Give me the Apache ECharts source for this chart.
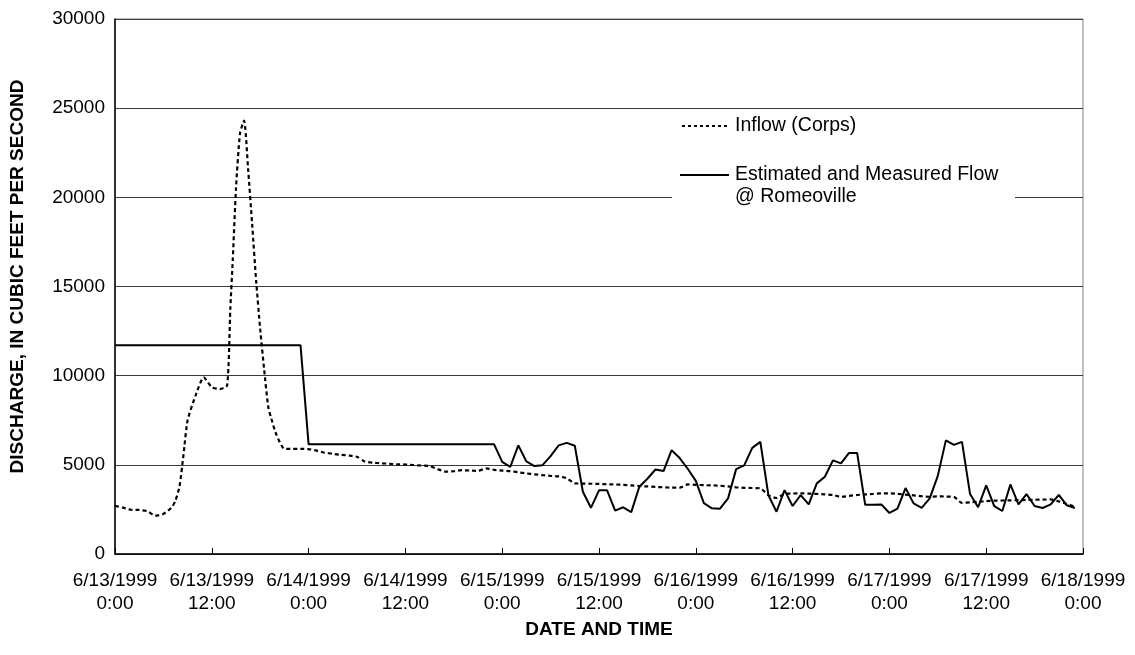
<!DOCTYPE html>
<html>
<head>
<meta charset="utf-8">
<title>Discharge, June 13-18, 1999</title>
<script src="https://cdn.jsdelivr.net/npm/echarts@6/dist/echarts.min.js"></script>
<style>
  html, body { margin: 0; padding: 0; background: #fff; }
  #chart { width: 1135px; height: 655px; }
</style>
</head>
<body>
<div id="chart"></div>
<script>
// Hours elapsed since 6/13/1999 0:00
const xTickLabels = [
  '6/13/1999\n0:00', '6/13/1999\n12:00', '6/14/1999\n0:00', '6/14/1999\n12:00',
  '6/15/1999\n0:00', '6/15/1999\n12:00', '6/16/1999\n0:00', '6/16/1999\n12:00',
  '6/17/1999\n0:00', '6/17/1999\n12:00', '6/18/1999\n0:00'
];

// Inflow (Corps), cubic feet per second
const inflowHours = [
  0, 1, 2, 3, 4, 5, 6, 7, 7.5, 8, 8.5, 9, 10, 11, 12, 13, 13.9, 14.3, 14.6, 15,
  15.5, 16, 16.5, 17, 17.5, 18, 18.5, 19, 19.5, 20, 21, 22, 23, 24,
  25, 26, 27, 28, 29, 30, 31, 32, 33, 34, 35, 36, 37, 38, 39, 40, 41, 42, 43, 44,
  45, 46, 47, 48, 49, 50, 51, 52, 53, 54, 55, 56, 57, 58, 59, 60, 61, 62, 63, 64,
  65, 66, 67, 68, 69, 70, 71, 72, 73, 74, 75, 76, 77, 78, 79, 80, 81, 82, 83, 84,
  85, 86, 87, 88, 89, 90, 91, 92, 93, 94, 95, 96, 97, 98, 99, 100, 101, 102, 103, 104,
  105, 106, 107, 108, 109, 110, 111, 112, 113, 114, 115, 116, 117, 118, 119
];
const inflowCfs = [
  2700, 2600, 2480, 2470, 2400, 2150, 2250, 2600, 3000, 3800, 5600, 7500, 8900, 9900, 9350, 9250, 9450, 13800, 16500, 20500,
  23600, 24300, 21600, 18500, 15300, 12600, 10300, 8250, 7400, 6700, 5900, 5900, 5900, 5880,
  5800, 5680, 5620, 5560, 5520, 5450, 5180, 5120, 5090, 5060, 5030, 5020, 4990, 4960, 4930, 4760, 4620, 4640, 4700, 4680,
  4660, 4800, 4720, 4680, 4650, 4580, 4520, 4470, 4420, 4380, 4350, 4250, 3960, 3950, 3940, 3930, 3910, 3900, 3880, 3850,
  3810, 3790, 3760, 3740, 3720, 3720, 3900, 3880, 3860, 3850, 3830, 3790, 3740, 3710, 3700, 3680, 3290, 3140, 3370, 3390,
  3400, 3390, 3370, 3340, 3310, 3200, 3260, 3310, 3340, 3370, 3400, 3400, 3370, 3330, 3290, 3240, 3210, 3230, 3220, 3200,
  2860, 2900, 2930, 2960, 2990, 3000, 3010, 3020, 3030, 3040, 3050, 3060, 2950, 2800, 2650
];

// Estimated and measured flow at Romeoville, cubic feet per second
const flowHours = [
  0, 23, 24, 47, 48, 49, 50, 51, 52, 53, 54, 55, 56, 57, 58, 59, 60, 61, 62, 63,
  64, 65, 66, 67, 68, 69, 70, 71, 72, 73, 74, 75, 76, 77, 78, 79, 80, 81, 82, 83,
  84, 85, 86, 87, 88, 89, 90, 91, 92, 93, 94, 95, 96, 97, 98, 99, 100, 101, 102, 103,
  104, 105, 106, 107, 108, 109, 110, 111, 112, 113, 114, 115, 116, 117, 118, 119
];
const flowCfs = [
  11700, 11700, 6150, 6150, 5170, 4890, 6090, 5190, 4930, 4980, 5490, 6090, 6230, 6070, 3490, 2590, 3570, 3570, 2430, 2620,
  2350, 3770, 4220, 4740, 4650, 5820, 5380, 4780, 4100, 2850, 2560, 2540, 3120, 4760, 4970, 5950, 6290, 3300, 2370, 3580,
  2690, 3300, 2780, 3960, 4330, 5250, 5080, 5670, 5670, 2760, 2760, 2780, 2300, 2540, 3700, 2840, 2590, 3120, 4380, 6370,
  6120, 6290, 3360, 2620, 3850, 2690, 2410, 3900, 2780, 3360, 2690, 2580, 2780, 3320, 2730, 2580
];

const yTicks = { min: 0, max: 30000, step: 5000 };
const xTicks = { min: 0, max: 120, step: 12 };

const FONT = "'Liberation Sans', Arial, Helvetica, sans-serif";

const zip = (xs, ys) => xs.map((x, i) => [x, ys[i]]);

const chart = echarts.init(document.getElementById('chart'), null, { renderer: 'canvas' });

chart.setOption({
  animation: false,
  backgroundColor: '#ffffff',
  textStyle: { fontFamily: FONT },
  grid: {
    left: 114, right: 52, top: 19, bottom: 101,
    show: true, borderColor: '#808080', borderWidth: 1, backgroundColor: 'transparent'
  },
  xAxis: {
    type: 'value',
    min: xTicks.min, max: xTicks.max, interval: xTicks.step,
    name: 'DATE AND TIME',
    nameLocation: 'middle',
    nameGap: 58,
    nameTextStyle: { fontFamily: FONT, fontSize: 19, fontWeight: 'bold', color: '#000' },
    axisLine: { show: true, lineStyle: { color: '#000', width: 1.5 } },
    axisTick: { show: true, inside: true, length: 6, lineStyle: { color: '#000', width: 1 } },
    splitLine: { show: false },
    axisLabel: {
      fontFamily: FONT, fontSize: 19, color: '#000', lineHeight: 23, margin: 15,
      formatter: v => xTickLabels[Math.round(v / xTicks.step)] || ''
    }
  },
  yAxis: {
    type: 'value',
    min: yTicks.min, max: yTicks.max, interval: yTicks.step,
    name: 'DISCHARGE, IN CUBIC FEET PER SECOND',
    nameLocation: 'middle',
    nameGap: 88,
    nameTextStyle: { fontFamily: FONT, fontSize: 19, fontWeight: 'bold', color: '#000', padding: [0, 0, 0, 20] },
    axisLine: { show: true, lineStyle: { color: '#000', width: 1.5 } },
    axisTick: { show: false },
    splitLine: { show: true, lineStyle: { color: '#3a3a3a', width: 1 } },
    axisLabel: { fontFamily: FONT, fontSize: 19, color: '#000', margin: 10, formatter: v => String(v) }
  },
  legend: { show: false },
  series: [
    {
      name: 'Inflow (Corps)',
      type: 'line',
      data: zip(inflowHours, inflowCfs),
      showSymbol: false,
      smooth: 0.2,
      lineStyle: { color: '#000', width: 2.2, type: [4, 3] },
      z: 3
    },
    {
      name: 'Estimated and Measured Flow @ Romeoville',
      type: 'line',
      data: zip(flowHours, flowCfs),
      showSymbol: false,
      lineStyle: { color: '#000', width: 2, type: 'solid' },
      z: 4
    }
  ],
  graphic: [
    {
      type: 'group',
      left: 672, top: 113,
      z: 100,
      children: [
        { type: 'rect', z: 100, shape: { x: 0, y: 0, width: 343, height: 98 }, style: { fill: '#fff' } },
        { type: 'line', z: 101, shape: { x1: 10, y1: 13, x2: 57, y2: 13 }, style: { stroke: '#000', lineWidth: 2, lineDash: [3, 3] } },
        { type: 'text', z: 101, x: 63, y: 13, style: { text: 'Inflow (Corps)', font: '19.5px ' + FONT, fill: '#000', verticalAlign: 'middle' } },
        { type: 'line', z: 101, shape: { x1: 8, y1: 62, x2: 57, y2: 62 }, style: { stroke: '#000', lineWidth: 2 } },
        { type: 'text', z: 101, x: 63, y: 62, style: { text: 'Estimated and Measured Flow', font: '19.5px ' + FONT, fill: '#000', verticalAlign: 'middle' } },
        { type: 'text', z: 101, x: 63, y: 84, style: { text: '@ Romeoville', font: '19.5px ' + FONT, fill: '#000', verticalAlign: 'middle' } }
      ]
    }
  ]
});
</script>
</body>
</html>
